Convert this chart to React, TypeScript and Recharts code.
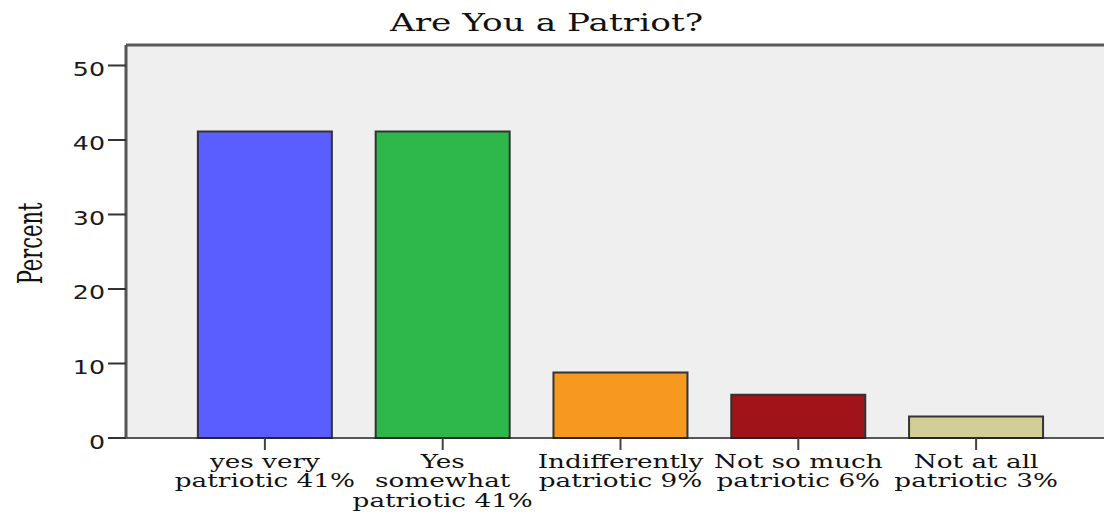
import React from 'react';
import { BarChart, Bar, XAxis, YAxis, CartesianGrid, Cell, ReferenceLine, Label } from 'recharts';

const categories = [
  'yes very\npatriotic 41%',
  'Yes\nsomewhat\npatriotic 41%',
  'Indifferently\npatriotic 9%',
  'Not so much\npatriotic 6%',
  'Not at all\npatriotic 3%',
];
const percents = [41.15, 41.15, 8.8, 5.8, 2.9];
const barColors = ['#5A5EFF', '#2EB84B', '#F7991F', '#A01419', '#D3CE98'];
const yTicks = [0, 10, 20, 30, 40, 50];
const yMax = 52.75;
const title = 'Are You a Patriot?';
const yLabel = 'Percent';

const data = categories.map((c, i) => ({ category: c, percent: percents[i] }));

const YTick = (props: any) => {
  const { x, y, payload } = props;
  return (
    <text
      transform={`translate(${x},${y + 10.5}) scale(1.33,1)`}
      textAnchor="end"
      fontFamily="DejaVu Sans"
      fontSize={19}
      fill="#1a1a1a"
    >
      {payload.value}
    </text>
  );
};

const XTick = (props: any) => {
  const { x, y, payload } = props;
  const lines = String(payload.value).split('\n');
  return (
    <g>
      {lines.map((l, i) => (
        <text
          key={i}
          transform={`translate(${x},${y + 15.5 + i * 19.5}) scale(1.46,1)`}
          textAnchor="middle"
          fontFamily="DejaVu Serif"
          fontSize={18}
          fill="#111"
        >
          {l}
        </text>
      ))}
    </g>
  );
};

const YLabel = (props: any) => {
  const vb = props.viewBox || { x: 0, y: 45, width: 126, height: 393 };
  const cy = vb.y + vb.height / 2 + 2;
  return (
    <text
      transform={`translate(42,${cy}) rotate(-90) scale(1,1.6)`}
      textAnchor="middle"
      fontFamily="DejaVu Serif"
      fontSize={21}
      fill="#111"
    >
      {yLabel}
    </text>
  );
};

export default function App() {
  return (
    <div style={{ position: 'absolute', left: 0, top: 0, width: 1104, height: 514, background: '#fff' }}>
      <BarChart
        width={1104}
        height={514}
        data={data}
        margin={{ top: 45, right: 0, bottom: 0, left: 0 }}
        barCategoryGap="12.3%"
      >
        <CartesianGrid fill="#EFEFEF" horizontal={false} vertical={false} />
        <XAxis
          dataKey="category"
          interval={0}
          height={76}
          padding={{ left: 50, right: 39 }}
          tickSize={12}
          tickMargin={2}
          axisLine={{ stroke: '#222', strokeWidth: 1.5 }}
          tickLine={{ stroke: '#444', strokeWidth: 2 }}
          tick={<XTick />}
        />
        <YAxis
          width={126}
          domain={[0, yMax]}
          ticks={yTicks}
          interval={0}
          tickSize={18}
          tickMargin={3}
          axisLine={{ stroke: '#555', strokeWidth: 3 }}
          tickLine={{ stroke: '#333', strokeWidth: 2 }}
          tick={<YTick />}
        >
          <Label content={<YLabel />} />
        </YAxis>
        <ReferenceLine y={yMax} stroke="#5a5a5a" strokeWidth={3} />
        <Bar dataKey="percent" stroke="#333" strokeWidth={2} isAnimationActive={false}>
          {data.map((d, i) => (
            <Cell key={i} fill={barColors[i]} />
          ))}
        </Bar>
      </BarChart>
      <svg
        width={1104}
        height={514}
        style={{ position: 'absolute', left: 0, top: 0, pointerEvents: 'none' }}
      >
        <text
          transform="translate(546.5,31) scale(1.43,1)"
          textAnchor="middle"
          fontFamily="DejaVu Serif"
          fontSize={24}
          fill="#111"
        >
          {title}
        </text>
      </svg>
    </div>
  );
}
